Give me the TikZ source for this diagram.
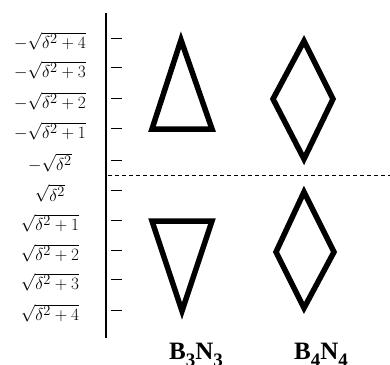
\documentclass[tikz,border=0pt]{standalone}
\usepackage{fontspec}
\setmainfont{Liberation Serif}
\newcommand{\lowsub}[1]{\raisebox{-0.28em}{\fontsize{19}{19}\selectfont #1}}
\begin{document}
\begin{tikzpicture}[x=1pt,y=-1pt,
  outline/.style={line width=5.5pt,miter limit=20,line join=miter},
  tickline/.style={line width=1pt},
  lab/.style={font=\fontsize{19}{19}\selectfont,inner sep=0pt,anchor=center},
  mol/.style={font=\fontsize{25}{25}\selectfont\bfseries,inner sep=0pt}]
\useasboundingbox (0,0) rectangle (390,364);
% axis
\coordinate (ax1) at (106,13);
\coordinate (ax2) at (106,338);
\draw[line width=1.2pt] (ax1) -- (ax2);
\coordinate (d1) at (108,175.5);
\coordinate (d2) at (390,175.5);
\draw[line width=1.2pt,dash pattern=on 4pt off 3pt] (d1) -- (d2);
% ticks and labels
\foreach \y/\t [count=\i] in {38/{-\sqrt{\delta^2+4}},67/{-\sqrt{\delta^2+3}},98/{-\sqrt{\delta^2+2}},128/{-\sqrt{\delta^2+1}},160/{-\sqrt{\delta^2}},190/{\sqrt{\delta^2}},220/{\sqrt{\delta^2+1}},250/{\sqrt{\delta^2+2}},279/{\sqrt{\delta^2+3}},310/{\sqrt{\delta^2+4}}}{
  \coordinate (ta\i) at (111,\y);
  \coordinate (tb\i) at (122,\y);
  \draw[tickline] (ta\i) -- (tb\i);
  \node[lab] (l\i) at (50,\y+3) {$\t$};
}
% top triangle
\coordinate (t1) at (181,40);
\coordinate (t2) at (152,129);
\coordinate (t3) at (212,129);
\draw[outline] (t1) -- (t2) -- (t3) -- cycle;
% top diamond
\coordinate (r1) at (304,41);
\coordinate (r2) at (273,99);
\coordinate (r3) at (304,159);
\coordinate (r4) at (333,99);
\draw[outline] (r1) -- (r2) -- (r3) -- (r4) -- cycle;
% bottom triangle
\coordinate (u1) at (152,221);
\coordinate (u2) at (212,221);
\coordinate (u3) at (182,311);
\draw[outline] (u1) -- (u2) -- (u3) -- cycle;
% bottom diamond
\coordinate (s1) at (304,192);
\coordinate (s2) at (276,252);
\coordinate (s3) at (304,308);
\coordinate (s4) at (334,252);
\draw[outline] (s1) -- (s2) -- (s3) -- (s4) -- cycle;
% names
\node[mol,anchor=base] (m1) at (196,359) {B\lowsub{3}N\lowsub{3}};
\node[mol,anchor=base] (m2) at (321,359) {B\lowsub{4}N\lowsub{4}};
\end{tikzpicture}
\end{document}
